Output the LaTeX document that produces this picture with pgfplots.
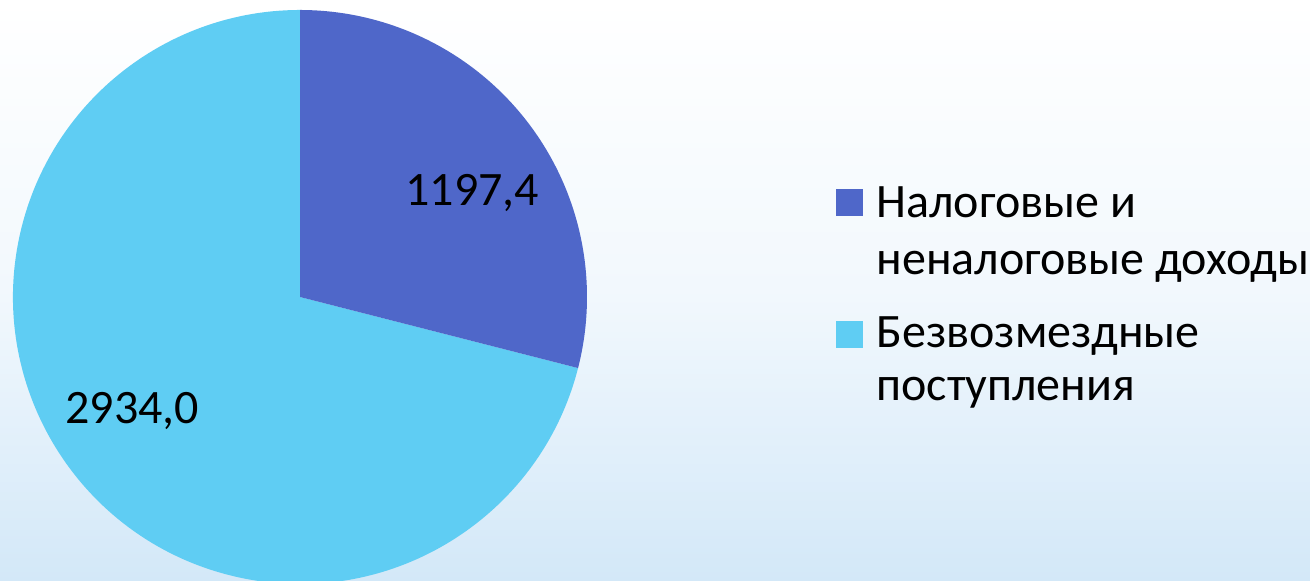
\documentclass[border=0pt]{standalone}
\usepackage{pgfplots}
\pgfplotsset{compat=1.18}
\usepackage{fontspec}
\setmainfont{Carlito}
\definecolor{sliceA}{HTML}{4F67C9}
\definecolor{sliceB}{HTML}{5FCDF3}
\definecolor{bgblue}{HTML}{D3E8F8}
\begin{document}
\begin{tikzpicture}
% background
\shade[top color=white, bottom color=bgblue, middle color=white!70!bgblue] (0,0) rectangle (655pt,290.5pt);
\begin{axis}[
  at={(0,0)}, anchor=south west,
  width=655pt, height=290.5pt, scale only axis,
  xmin=0, xmax=1310, ymin=0, ymax=581,
  axis lines=none, clip=true,
]
% data
\def\va{1197.4}
\def\vb{2934.0}
\pgfmathsetmacro{\total}{\va+\vb}
\pgfmathsetmacro{\angA}{\va/\total*360}
\pgfmathsetmacro{\endA}{90-\angA}
\def\R{143.5pt}
\fill[sliceB] (axis cs:300,284) -- ++(\endA:\R) arc[start angle=\endA, end angle=\endA-360+\angA, radius=\R] -- cycle;
\fill[sliceA] (axis cs:300,284) -- ++(90:\R) arc[start angle=90, end angle=\endA, radius=\R] -- cycle;
\node[anchor=base west, inner sep=0pt, font=\fontsize{24}{29}\selectfont] at (axis cs:405,375) {1197,4};
\node[anchor=base west, inner sep=0pt, font=\fontsize{24}{29}\selectfont] at (axis cs:65,157) {2934,0};
% legend
\fill[sliceA] (axis cs:836,365) rectangle (axis cs:863,392);
\fill[sliceB] (axis cs:836,233) rectangle (axis cs:863,260);
\begin{scope}[every node/.style={anchor=base west, inner sep=0pt, font=\fontsize{24}{29}\selectfont}]
\node at (axis cs:876,363) {Налоговые и};
\node at (axis cs:876,306) {неналоговые доходы};
\node at (axis cs:876,233) {Безвозмездные};
\node at (axis cs:876,180) {поступления};
\end{scope}
\end{axis}
\end{tikzpicture}
\end{document}
